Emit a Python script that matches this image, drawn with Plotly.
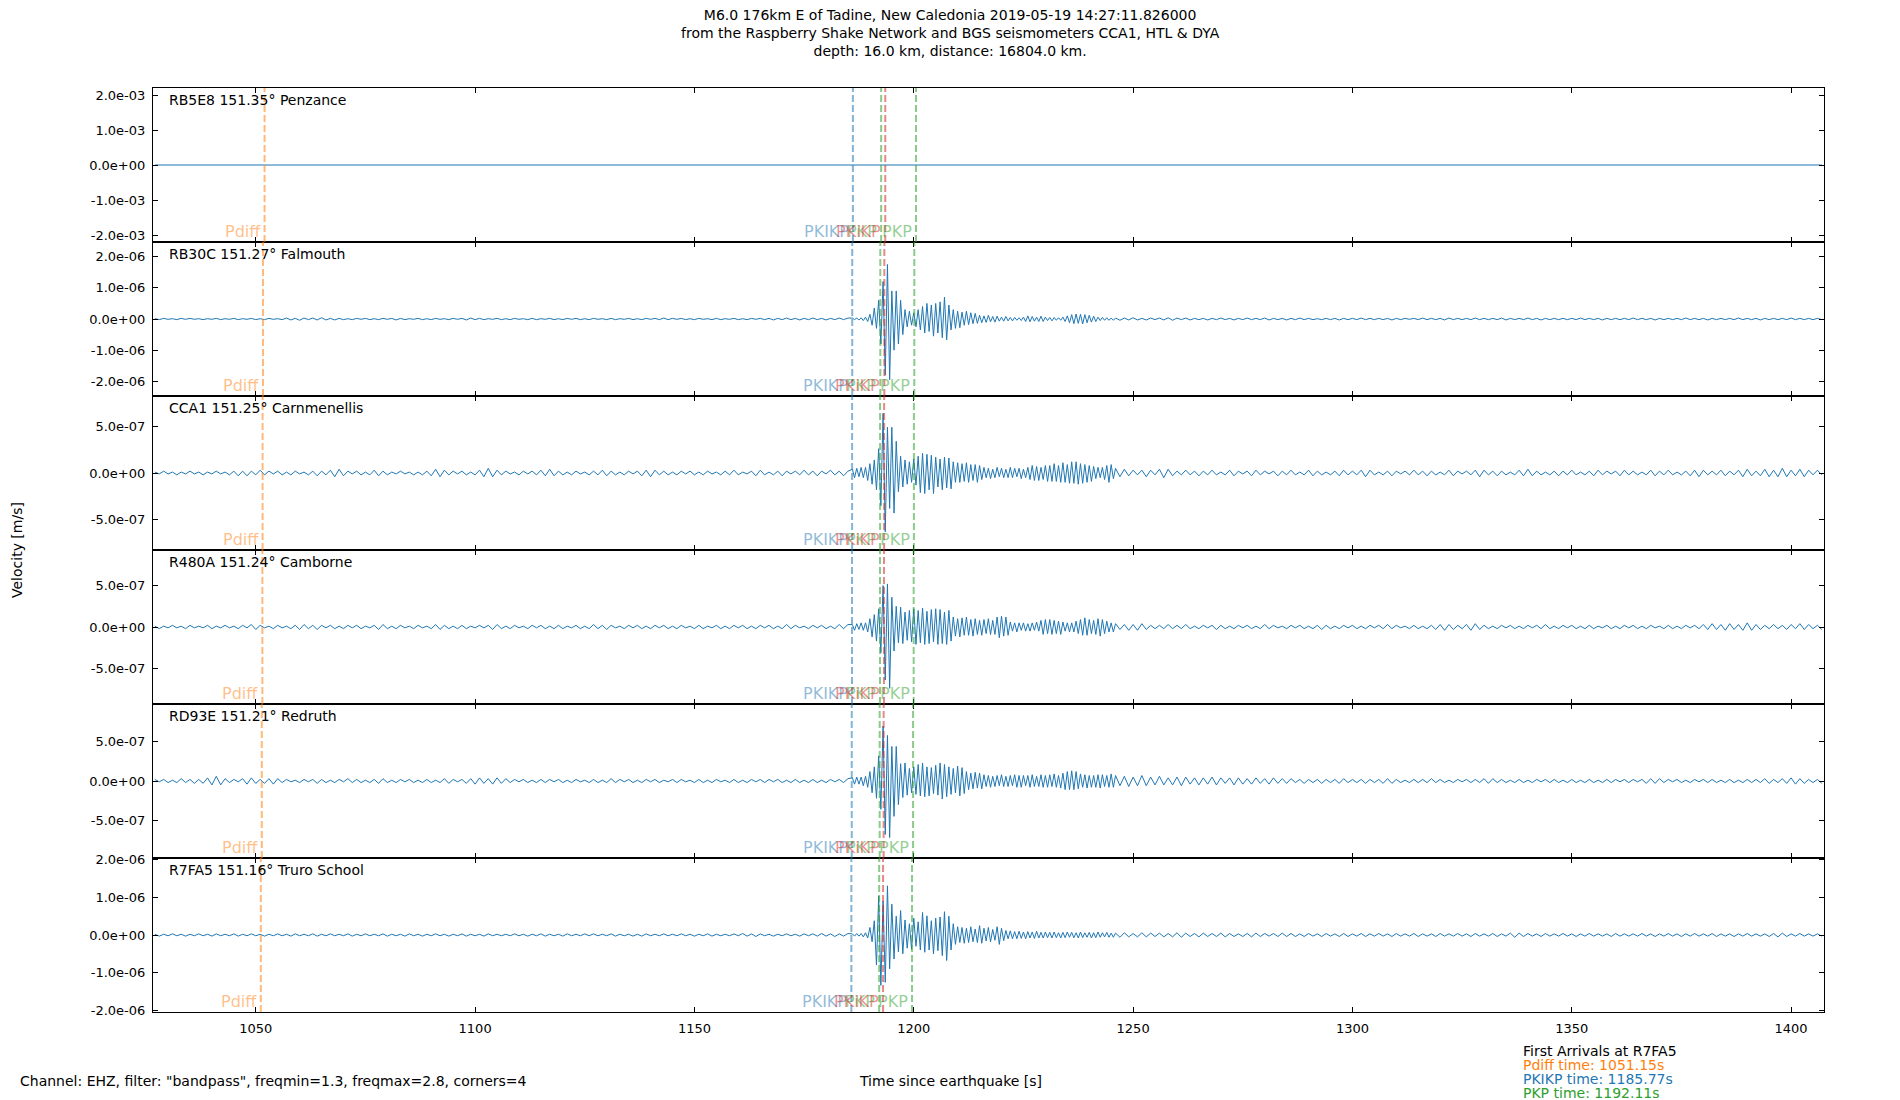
import plotly.graph_objects as go
from plotly.subplots import make_subplots

# ---- data (velocities in units of 1e-8 m/s) ----
unit = 1e-8

stations = ["RB5E8", "RB30C", "CCA1", "R480A", "RD93E", "R7FA5"]
distances = [151.35, 151.27, 151.25, 151.24, 151.21, 151.16]
places = ["Penzance", "Falmouth", "Carnmenellis", "Camborne", "Redruth", "Truro School"]

# time samples (s since earthquake): 1 s before/after the arrivals, 0.5 s through them
t_pre = list(range(1027, 1186))
t_main = [1186 + 0.5 * i for i in range(120)]
t_post = list(range(1246, 1408))

rb30c_pre = [
    1, -2, 2, -1, 1, -2, 2, -1, 2, -1,
    1, -2, 1, -1, 2, -2, 1, -1, 2, -2,
    1, -1, 2, -2, 1, -2, 2, -1, 1, -2,
    3, -3, 2, -4, 3, -2, 3, -3, 4, -3,
    2, -3, 2, -2, 1, -2, 2, -1, 2, -2,
    1, -2, 2, -1, 2, -3, 2, -2, 1, -1,
    2, -2, 1, -2, 2, -1, 1, -2, 2, -1,
    2, -3, 3, -2, 2, -2, 1, -1, 2, -2,
    1, -2, 2, -1, 1, -2, 2, -2, 1, -1,
    2, -2, 1, -2, 2, -1, 2, -2, 1, -2,
    2, -1, 1, -2, 2, -2, 1, -1, 2, -2,
    1, -2, 2, -1, 2, -2, 3, -2, 2, -1,
    2, -2, 1, -2, 2, -1, 1, -2, 2, -2,
    1, -1, 2, -2, 1, -2, 2, -1, 2, -2,
    2, -3, 2, -2, 3, -2, 2, -3, 2, -2,
    3, -2, 2, -3, 2, -2, 3, -2, 3,
]
rb30c_main = [
    3, -2, 3, -3, 4, -5, 6, -8, 15, -20,
    35, -30, 60, -80, 120, -180, 175, -195, 90, -100,
    90, -80, 60, -50, 30, -25, 25, -20, 20, -25,
    30, -35, 40, -45, 50, -40, 45, -55, 50, -45,
    55, -60, 70, -67, 45, -35, 30, -30, 25, -28,
    22, -20, 25, -18, 20, -15, 18, -14, 12, -12,
    10, -11, 12, -9, 8, -10, 9, -7, 6, -7,
    8, -6, 5, -6, 5, -4, 4, -5, 6, -8,
    10, -9, 8, -7, 6, -8, 9, -8, 6, -5,
    5, -6, 5, -4, 4, -4, 6, -8, 10, -12,
    14, -15, 16, -14, 15, -16, 14, -12, 12, -10,
    9, -8, 6, -5, 5, -4, 4, -4, 3, -4,
]
rb30c_post = [
    3, -4, 3, -3, 4, -3, 2, -3, 3, -2,
    3, -3, 4, -4, 3, -2, 3, -3, 2, -2,
    2, -3, 2, -2, 3, -2, 2, -3, 2, -2,
    3, -2, 2, -2, 3, -3, 2, -2, 2, -3,
    2, -2, 3, -2, 2, -2, 1, -2, 2, -2,
    2, -3, 2, -2, 2, -2, 3, -2, 2, -2,
    2, -2, 2, -3, 2, -2, 2, -1, 2, -2,
    3, -2, 2, -2, 2, -3, 3, -2, 2, -2,
    2, -2, 3, -2, 2, -2, 2, -2, 3, -3,
    2, -2, 2, -2, 3, -2, 2, -3, 2, -2,
    2, -2, 2, -2, 2, -2, 3, -2, 2, -2,
    2, -3, 2, -2, 2, -2, 2, -2, 3, -2,
    2, -2, 2, -3, 2, -2, 2, -2, 2, -2,
    3, -2, 2, -2, 2, -3, 2, -2, 2, -2,
    2, -2, 3, -2, 2, -2, 2, -3, 2, -2,
    2, -2, 2, -2, 3, -2, 2, -2, 2, -2,
    2, -2,
]

cca1_pre = [
    1, -1, 2, -1, 1, -2, 1, -1, 2, -1,
    1, -2, 1, -1, 2, -1, 1, -2, 2, -3,
    2, -3, 2, -2, 3, -2, 2, -1, 2, -2,
    1, -2, 2, -1, 1, -2, 2, -3, 2, -2,
    3, -4, 4, -3, 2, -1, 2, -2, 1, -2,
    3, -3, 2, -2, 1, -1, 2, -1, 1, -2,
    1, -2, 2, -3, 4, -4, 3, -2, 2, -1,
    2, -2, 1, -2, 3, -4, 5, -4, 3, -2,
    2, -1, 1, -2, 2, -1, 2, -2, 3, -3,
    4, -3, 2, -2, 1, -2, 2, -1, 1, -2,
    2, -2, 3, -3, 2, -2, 1, -2, 2, -1,
    2, -3, 3, -4, 3, -2, 2, -2, 1, -2,
    2, -1, 2, -2, 1, -2, 2, -1, 1, -2,
    2, -2, 3, -2, 1, -1, 2, -3, 3, -2,
    1, -2, 2, -3, 2, -1, 2, -2, 3, -2,
    2, -3, 2, -1, 3, -2, 2, -3, 2,
]
cca1_main = [
    4, -5, 5, -4, 6, -5, 6, -8, 10, -12,
    14, -18, 26, -35, 64, -63, 49, -38, 49, -43,
    34, -20, 18, -15, 14, -12, 12, -10, 15, -13,
    18, -21, 21, -22, 20, -18, 19, -22, 17, -15,
    15, -18, 17, -16, 16, -17, 12, -10, 11, -10,
    10, -9, 11, -10, 9, -8, 9, -10, 8, -7,
    6, -5, 5, -6, 4, -5, 6, -4, 5, -5,
    4, -5, 6, -5, 5, -4, 5, -6, 4, -5,
    6, -7, 8, -8, 7, -8, 6, -7, 8, -9,
    8, -9, 10, -9, 8, -10, 11, -10, 9, -11,
    12, -11, 12, -12, 10, -11, 9, -10, 8, -9,
    7, -6, 6, -5, 6, -7, 8, -10, 9, -6,
]
cca1_post = [
    5, -4, 4, -3, 3, -2, 3, -4, 3, -2,
    4, -5, 4, -3, 2, -2, 3, -2, 2, -3,
    2, -2, 3, -2, 1, -2, 3, -3, 2, -1,
    2, -3, 3, -2, 2, -1, 2, -3, 2, -2,
    3, -2, 1, -2, 3, -3, 2, -2, 1, -2,
    2, -3, 3, -2, 2, -2, 3, -4, 3, -2,
    1, -2, 2, -3, 2, -1, 2, -2, 3, -2,
    2, -3, 2, -2, 1, -2, 3, -3, 2, -1,
    2, -2, 3, -4, 3, -2, 2, -3, 2, -2,
    1, -2, 3, -3, 4, -3, 2, -2, 1, -2,
    2, -3, 2, -2, 3, -2, 1, -2, 2, -3,
    3, -2, 2, -1, 2, -3, 3, -2, 2, -2,
    1, -2, 3, -3, 2, -2, 3, -2, 1, -2,
    2, -3, 3, -4, 3, -2, 2, -2, 3, -3,
    2, -2, 3, -4, 4, -3, 2, -3, 4, -4,
    3, -4, 5, -4, 3, -3, 4, -4, 3, -2,
    3, -2,
]

r480a_pre = [
    1, -2, 1, -1, 2, -1, 1, -2, 2, -1,
    1, -1, 2, -2, 1, -1, 2, -1, 1, -2,
    2, -1, 3, -3, 2, -1, 1, -2, 2, -1,
    1, -2, 2, -3, 3, -2, 2, -3, 2, -1,
    2, -2, 1, -2, 2, -1, 2, -2, 1, -1,
    2, -3, 3, -2, 1, -2, 2, -1, 1, -2,
    2, -1, 1, -2, 3, -3, 2, -2, 1, -2,
    2, -2, 1, -1, 2, -1, 2, -3, 3, -2,
    1, -2, 2, -1, 1, -2, 2, -1, 2, -2,
    1, -2, 2, -2, 1, -1, 2, -2, 1, -2,
    3, -2, 2, -3, 2, -1, 1, -2, 2, -1,
    2, -2, 1, -2, 2, -1, 2, -2, 1, -2,
    2, -1, 1, -2, 2, -2, 1, -1, 2, -2,
    1, -2, 2, -1, 2, -2, 1, -2, 2, -1,
    2, -2, 1, -2, 3, -2, 2, -1, 1, -2,
    2, -1, 2, -2, 1, -2, 3, -2, 3,
]
r480a_main = [
    3, -4, 4, -3, 5, -4, 5, -6, 10, -12,
    15, -17, 22, -31, 50, -64, 52, -74, 36, -29,
    25, -19, 24, -20, 18, -16, 20, -18, 22, -21,
    20, -19, 23, -21, 19, -20, 21, -18, 22, -21,
    21, -20, 18, -21, 20, -17, 12, -11, 10, -12,
    11, -10, 12, -10, 9, -11, 10, -9, 8, -10,
    9, -8, 10, -9, 8, -9, 12, -13, 13, -11,
    12, -10, 6, -5, 5, -6, 5, -4, 5, -5,
    4, -5, 5, -4, 6, -5, 8, -9, 9, -8,
    9, -9, 8, -8, 7, -9, 6, -5, 5, -6,
    5, -6, 7, -8, 9, -10, 11, -10, 9, -8,
    8, -9, 10, -11, 9, -8, 7, -6, 5, -6,
]
r480a_post = [
    4, -3, 3, -4, 3, -4, 4, -3, 2, -2,
    2, -2, 3, -2, 2, -2, 3, -2, 1, -2,
    2, -1, 2, -3, 2, -2, 1, -2, 2, -1,
    2, -2, 1, -2, 3, -2, 2, -1, 1, -2,
    2, -1, 2, -2, 1, -2, 2, -3, 2, -2,
    1, -2, 2, -1, 2, -2, 1, -2, 2, -1,
    2, -2, 3, -2, 2, -1, 1, -2, 2, -2,
    1, -2, 2, -3, 3, -4, 3, -3, 2, -2,
    3, -4, 4, -3, 2, -2, 1, -2, 2, -1,
    2, -2, 1, -2, 2, -1, 2, -2, 3, -2,
    1, -2, 2, -1, 2, -2, 1, -2, 2, -2,
    1, -1, 2, -2, 1, -2, 2, -1, 2, -2,
    1, -2, 2, -1, 1, -2, 2, -2, 1, -2,
    2, -1, 2, -2, 3, -3, 4, -3, 3, -4,
    4, -3, 3, -4, 5, -4, 3, -3, 2, -2,
    3, -2, 2, -3, 3, -2, 4, -3, 3, -2,
    2, -3,
]

rd93e_pre = [
    2, -1, 2, -2, 1, -2, 3, -2, 2, -3,
    2, -3, 4, -5, 6, -5, 3, -2, 2, -1,
    3, -4, 4, -3, 2, -3, 3, -4, 3, -2,
    2, -1, 1, -2, 2, -1, 2, -3, 2, -2,
    1, -2, 2, -1, 3, -2, 2, -2, 1, -2,
    2, -3, 3, -2, 1, -2, 2, -1, 2, -2,
    1, -2, 2, -2, 1, -2, 3, -3, 2, -1,
    2, -3, 3, -4, 4, -3, 3, -4, 4, -3,
    3, -2, 2, -1, 2, -2, 1, -2, 2, -2,
    2, -1, 2, -2, 1, -2, 2, -1, 1, -2,
    2, -2, 1, -2, 3, -2, 2, -1, 2, -2,
    1, -2, 2, -1, 2, -2, 1, -1, 2, -2,
    2, -1, 1, -2, 2, -2, 1, -2, 2, -1,
    1, -2, 2, -2, 1, -2, 2, -1, 2, -2,
    2, -1, 2, -2, 1, -2, 2, -2, 1, -2,
    2, -2, 1, -2, 2, -1, 2, -2, 3,
]
rd93e_main = [
    4, -4, 5, -4, 5, -6, 6, -8, 12, -15,
    18, -22, 32, -36, 70, -68, 58, -72, 44, -45,
    44, -30, 22, -21, 23, -18, 16, -15, 18, -17,
    21, -19, 23, -20, 18, -19, 17, -16, 20, -18,
    23, -23, 21, -20, 18, -17, 16, -15, 19, -19,
    17, -16, 12, -11, 10, -10, 11, -9, 10, -10,
    8, -7, 7, -8, 6, -7, 7, -6, 8, -7,
    6, -7, 7, -6, 8, -8, 7, -8, 7, -6,
    7, -8, 8, -7, 6, -7, 8, -8, 7, -8,
    8, -7, 9, -8, 7, -9, 10, -11, 12, -11,
    13, -11, 12, -10, 9, -8, 8, -9, 7, -8,
    7, -8, 8, -9, 8, -7, 7, -8, 9, -8,
]
rd93e_post = [
    7, -6, 6, -7, 5, -6, 7, -6, 5, -5,
    6, -5, 4, -5, 5, -6, 5, -4, 4, -5,
    4, -4, 5, -5, 4, -3, 4, -5, 4, -4,
    3, -4, 4, -3, 3, -4, 4, -3, 3, -3,
    3, -2, 2, -3, 2, -2, 2, -3, 2, -2,
    2, -3, 3, -2, 2, -2, 2, -3, 2, -2,
    2, -3, 3, -3, 2, -2, 1, -2, 2, -2,
    2, -2, 3, -2, 2, -2, 1, -2, 2, -1,
    2, -2, 2, -2, 3, -3, 3, -2, 2, -2,
    1, -2, 2, -2, 1, -2, 2, -1, 2, -2,
    2, -2, 1, -2, 2, -2, 1, -2, 2, -2,
    1, -2, 2, -2, 2, -1, 2, -2, 2, -1,
    2, -3, 3, -3, 3, -2, 2, -1, 2, -2,
    1, -2, 2, -1, 2, -2, 2, -2, 1, -2,
    2, -2, 1, -2, 2, -2, 2, -2, 3, -3,
    2, -2, 3, -3, 4, -4, 3, -3, 2, -2,
    2, -3,
]

r7fa5_pre = [
    2, -3, 2, -2, 3, -2, 2, -3, 2, -2,
    3, -2, 2, -3, 3, -2, 2, -2, 3, -3,
    2, -2, 3, -2, 2, -3, 2, -2, 3, -2,
    2, -3, 3, -2, 2, -2, 3, -3, 2, -2,
    3, -2, 2, -2, 3, -3, 2, -2, 3, -2,
    2, -2, 3, -3, 2, -2, 2, -3, 3, -2,
    2, -3, 2, -2, 3, -2, 2, -3, 2, -2,
    3, -3, 2, -2, 2, -3, 3, -2, 2, -2,
    2, -2, 3, -2, 2, -3, 2, -2, 3, -3,
    2, -2, 2, -3, 3, -2, 2, -2, 3, -2,
    3, -2, 2, -2, 3, -3, 2, -2, 2, -3,
    2, -3, 3, -2, 2, -2, 3, -2, 2, -2,
    3, -2, 2, -3, 2, -2, 3, -3, 2, -2,
    2, -2, 3, -2, 4, -3, 3, -4, 3, -2,
    2, -3, 2, -2, 3, -2, 2, -3, 3, -2,
    3, -3, 4, -3, 3, -4, 3, -3, 4,
]
r7fa5_main = [
    3, -3, 4, -3, 4, -5, 6, -8, 20, -18,
    38, -80, 104, -134, 90, -126, 131, -90, 82, -64,
    50, -45, 65, -50, 40, -35, 30, -38, 45, -30,
    35, -40, 60, -46, 51, -40, 38, -50, 45, -42,
    48, -55, 62, -68, 50, -40, 30, -25, 22, -20,
    20, -22, 18, -20, 22, -18, 16, -20, 25, -22,
    18, -16, 20, -18, 15, -14, 22, -25, 18, -15,
    12, -10, 11, -10, 9, -10, 10, -9, 8, -10,
    9, -8, 8, -9, 10, -8, 7, -8, 8, -7,
    7, -8, 8, -7, 6, -8, 7, -7, 8, -6,
    7, -7, 6, -8, 8, -7, 6, -6, 7, -8,
    6, -7, 8, -6, 6, -5, 7, -6, 5, -6,
]
r7fa5_post = [
    5, -6, 6, -5, 4, -5, 6, -5, 5, -4,
    5, -5, 4, -5, 6, -6, 5, -4, 4, -5,
    5, -4, 4, -4, 5, -5, 4, -4, 3, -4,
    4, -5, 5, -4, 4, -3, 4, -4, 5, -4,
    4, -4, 3, -4, 4, -3, 3, -4, 4, -3,
    3, -4, 4, -4, 3, -3, 4, -4, 3, -3,
    4, -3, 3, -4, 4, -3, 3, -3, 4, -4,
    3, -3, 3, -4, 4, -3, 3, -3, 4, -3,
    3, -4, 4, -3, 3, -3, 4, -4, 3, -3,
    5, -6, 5, -4, 4, -3, 3, -4, 4, -3,
    3, -3, 4, -3, 3, -4, 3, -3, 4, -3,
    3, -3, 3, -4, 4, -3, 3, -3, 3, -3,
    4, -3, 3, -4, 3, -3, 4, -3, 3, -4,
    3, -3, 4, -3, 3, -3, 4, -4, 3, -3,
    3, -4, 3, -3, 4, -3, 3, -3, 3, -4,
    4, -5, 5, -4, 3, -3, 4, -3, 3, -3,
    3, -3,
]

# RB5E8 reads flat at zero on its +-2e-3 scale
rb5e8_level = 0.0

# arrival times (s) per station, same order as stations
pdiff_t = [1052.00, 1051.64, 1051.55, 1051.51, 1051.37, 1051.15]
pkikp_t = [1186.12, 1185.97, 1185.94, 1185.92, 1185.86, 1185.77]
pkp_t = [1192.56, 1192.37, 1192.32, 1192.30, 1192.23, 1192.11]
pkikp_inner_t = [1193.50, 1193.29, 1193.24, 1193.21, 1193.13, 1193.00]
pkp2_t = [1200.50, 1200.12, 1200.03, 1199.98, 1199.84, 1199.60]

# y axis ranges and ticks per panel
y_half = [2.2e-3, 2.47e-6, 8.25e-7, 9.3e-7, 9.8e-7, 2.05e-6]
y_tickvals = [
    [-2e-3, -1e-3, 0, 1e-3, 2e-3],
    [-2e-6, -1e-6, 0, 1e-6, 2e-6],
    [-5e-7, 0, 5e-7],
    [-5e-7, 0, 5e-7],
    [-5e-7, 0, 5e-7],
    [-2e-6, -1e-6, 0, 1e-6, 2e-6],
]
y_ticktext = [
    ["-2.0e-03", "-1.0e-03", "0.0e+00", "1.0e-03", "2.0e-03"],
    ["-2.0e-06", "-1.0e-06", "0.0e+00", "1.0e-06", "2.0e-06"],
    ["-5.0e-07", "0.0e+00", "5.0e-07"],
    ["-5.0e-07", "0.0e+00", "5.0e-07"],
    ["-5.0e-07", "0.0e+00", "5.0e-07"],
    ["-2.0e-06", "-1.0e-06", "0.0e+00", "1.0e-06", "2.0e-06"],
]
x_tickvals = [1050, 1100, 1150, 1200, 1250, 1300, 1350, 1400]

title_lines = [
    "M6.0 176km E of Tadine, New Caledonia 2019-05-19 14:27:11.826000",
    "from the Raspberry Shake Network and BGS seismometers CCA1, HTL & DYA",
    "depth: 16.0 km, distance: 16804.0 km.",
]

BLUE = "#1f77b4"
ORANGE = "#ff7f0e"
GREEN = "#2ca02c"
RED = "#d62728"
FONT = "DejaVu Sans"

t_all = t_pre + t_main + t_post
traces = [
    [rb5e8_level] * len(t_all),
    [v * unit for v in rb30c_pre + rb30c_main + rb30c_post],
    [v * unit for v in cca1_pre + cca1_main + cca1_post],
    [v * unit for v in r480a_pre + r480a_main + r480a_post],
    [v * unit for v in rd93e_pre + rd93e_main + rd93e_post],
    [v * unit for v in r7fa5_pre + r7fa5_main + r7fa5_post],
]

fig = make_subplots(rows=6, cols=1, shared_xaxes=True, vertical_spacing=0)

# phases: (times, label, colour)
phases = [
    (pdiff_t, "Pdiff", ORANGE),
    (pkikp_t, "PKIKP", BLUE),
    (pkp_t, "PKP", GREEN),
    (pkikp_inner_t, "PKiKP", RED),
    (pkp2_t, "PKP", GREEN),
]

def faded(hexcol, a):
    h = hexcol.lstrip("#")
    return "rgba(%d,%d,%d,%s)" % (int(h[0:2], 16), int(h[2:4], 16), int(h[4:6], 16), a)

for i in range(6):
    row = i + 1
    fig.add_trace(go.Scatter(x=t_all, y=traces[i], mode="lines",
                             line=dict(color=BLUE, width=1), showlegend=False,
                             hoverinfo="skip"), row=row, col=1)
    sfx = "" if row == 1 else str(row)
    for times, name, col in phases:
        fig.add_vline(x=times[i], row=row, col=1,
                      line=dict(color=faded(col, 0.55), width=2, dash="7px,3px"))
        fig.add_annotation(x=times[i], y=0, xref="x" + sfx, yref="y" + sfx + " domain",
                           text=name, showarrow=False, xanchor="right", yanchor="bottom",
                           xshift=-2, yshift=-1,
                           font=dict(family=FONT, size=16, color=faded(col, 0.5)))
    fig.add_annotation(x=0, y=1, xref="x" + sfx + " domain", yref="y" + sfx + " domain",
                       text="%s %.2f° %s" % (stations[i], distances[i], places[i]),
                       showarrow=False, xanchor="left", yanchor="top", xshift=14, yshift=-2,
                       font=dict(family=FONT, size=14, color="black"))
    fig.update_yaxes(range=[-y_half[i], y_half[i]], tickvals=y_tickvals[i],
                     ticktext=y_ticktext[i], row=row, col=1)

fig.update_xaxes(range=[1026.57, 1407.5], tickvals=x_tickvals, ticks="inside", ticklen=5,
                 tickcolor="black", showline=True, linecolor="black", linewidth=1.2,
                 mirror="ticks", showgrid=False, zeroline=False, ticklabelstandoff=4,
                 tickfont=dict(family=FONT, size=13, color="black"))
fig.update_yaxes(ticks="inside", ticklen=5, tickcolor="black", showline=True,
                 linecolor="black", linewidth=1.2, mirror="ticks", showgrid=False,
                 zeroline=False, ticklabelstandoff=4,
                 tickfont=dict(family=FONT, size=13, color="black"))

# page pixel -> paper coordinates (plot area spans x 153..1824, y 88.3..1012.3 on the page)
def px_x(p):
    return (p - 153) / 1671.0

def px_y(p):
    return (1012.3 - p) / 924.0

fig.add_annotation(x=px_x(950), y=px_y(33.5), xref="paper", yref="paper",
                   text="<br>".join(title_lines), showarrow=False,
                   xanchor="center", yanchor="middle", align="center",
                   font=dict(family=FONT, size=14, color="black"))

bottom_notes = [
    ("Channel: EHZ, filter: \"bandpass\", freqmin=1.3, freqmax=2.8, corners=4", 18, 1081, "left", "black"),
    ("Time since earthquake [s]", 950, 1081, "center", "black"),
    ("First Arrivals at R7FA5", 1521, 1051, "left", "black"),
    ("Pdiff time: 1051.15s", 1521, 1065, "left", ORANGE),
    ("PKIKP time: 1185.77s", 1521, 1079, "left", BLUE),
    ("PKP time: 1192.11s", 1521, 1093, "left", GREEN),
]
for txt, xp, yp, anchor, col in bottom_notes:
    fig.add_annotation(x=px_x(xp), y=px_y(yp), xref="paper", yref="paper", text=txt,
                       showarrow=False, xanchor=anchor, yanchor="middle",
                       font=dict(family=FONT, size=14, color=col))

fig.add_annotation(x=px_x(17), y=0.5, xref="paper", yref="paper", text="Velocity [m/s]",
                   textangle=-90, showarrow=False, xanchor="center", yanchor="middle",
                   font=dict(family=FONT, size=14, color="black"))

# the page body adds an 8 px margin, so the figure is 8 px smaller and shifted
fig.update_layout(
    width=1892, height=1092,
    margin=dict(l=145, r=76, t=80, b=88),
    paper_bgcolor="white", plot_bgcolor="white",
    showlegend=False,
)

fig.write_html("out.html")
